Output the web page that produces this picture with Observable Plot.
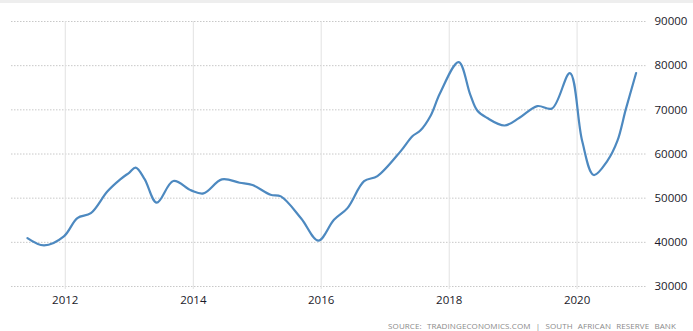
<!DOCTYPE html>
<html>
<head>
<meta charset="utf-8">
<script src="https://cdn.jsdelivr.net/npm/d3@7"></script>
<script src="https://cdn.jsdelivr.net/npm/@observablehq/plot@0.6"></script>
<style>
  html, body { margin: 0; padding: 0; background: #fff; }
  #wrap { position: relative; width: 693px; height: 331px; overflow: hidden; }
  #topband { position: absolute; left: 0; top: 0; width: 693px; height: 3px; background: #eeeeee; }
  #chart { position: absolute; left: 0; top: 0; }
  #caption { position: absolute; left: 0; width: 676px; top: 320px; text-align: right;
    font-family: "Open Sans", sans-serif; font-size: 8px; color: #8a8a8a; letter-spacing: 0.1px; word-spacing: 3px; white-space: nowrap; }
</style>
</head>
<body>
<div id="wrap">
  <div id="topband"></div>
  <div id="chart"></div>
  <div id="caption">SOURCE: TRADINGECONOMICS.COM | SOUTH AFRICAN RESERVE BANK</div>
</div>
<script>
const dates = [
  "2011-05-30","2011-09-02","2011-12-24","2012-03-10","2012-05-26","2012-08-28","2012-11-10",
  "2013-01-01","2013-02-06","2013-03-29","2013-06-06","2013-09-09","2013-12-20",
  "2014-02-28","2014-06-13","2014-09-23","2014-12-05",
  "2015-03-18","2015-05-16","2015-09-09","2015-12-16",
  "2016-03-14","2016-05-30","2016-09-02","2016-11-17",
  "2017-03-29","2017-06-06","2017-07-20","2017-09-16","2017-11-10",
  "2018-02-24","2018-05-01","2018-06-10","2018-08-04","2018-11-13",
  "2019-02-06","2019-05-19","2019-08-11","2019-11-21",
  "2020-01-30","2020-04-05","2020-06-21","2020-08-18","2020-10-05","2020-12-03"
];
const values = [
  40970,39320,41350,45500,46600,51500,54250,
  55800,56900,54300,48970,53880,51760,
  51080,54250,53500,52970,
  50780,50400,45400,40380,
  45100,47750,53850,55000,
  60600,64080,65300,68600,73800,
  80800,73450,69860,68200,66450,
  68200,70850,70300,78330,
  62950,55240,58400,62950,70100,78330
];
const yTicks = [30000,40000,50000,60000,70000,80000,90000];
const xTickYears = [2012,2014,2016,2018,2020];

const data = dates.map((d, i) => ({date: new Date(d + "T00:00:00Z"), value: values[i]}));
const xTicks = xTickYears.map(y => new Date(Date.UTC(y, 0, 1)));

const chart = Plot.plot({
  width: 693,
  height: 310,
  marginTop: 21,
  marginBottom: 24,
  marginLeft: 11,
  marginRight: 46,
  style: {fontFamily: "'Open Sans', sans-serif", fontSize: "11.5px", color: "#111", background: "transparent"},
  x: {type: "utc", domain: [new Date(Date.UTC(2011, 1, 28)), new Date(Date.UTC(2021, 1, 6))], label: null},
  y: {domain: [30000, 90000], label: null},
  marks: [
    Plot.gridY(yTicks, {stroke: "#c8c8c8", strokeOpacity: 1, strokeDasharray: "1.5,1.5", strokeWidth: 1}),
    Plot.ruleX(xTicks, {y1: 90000, y2: 30000, stroke: "#e2e2e2", strokeWidth: 1, insetBottom: -3}),
    Plot.axisY(yTicks, {anchor: "right", tickSize: 0, tickPadding: 7, tickFormat: d => String(d), label: null, fill: "#1a1a2a"}),
    Plot.axisX(xTicks, {tickSize: 0, tickPadding: 9, tickFormat: d => String(d.getUTCFullYear()), label: null, fill: "#1a1a2a"}),
    Plot.line(data, {x: "date", y: "value", stroke: "#4d89c0", strokeWidth: 2.2, curve: "catmull-rom"})
  ]
});
document.getElementById("chart").appendChild(chart);
</script>
</body>
</html>
